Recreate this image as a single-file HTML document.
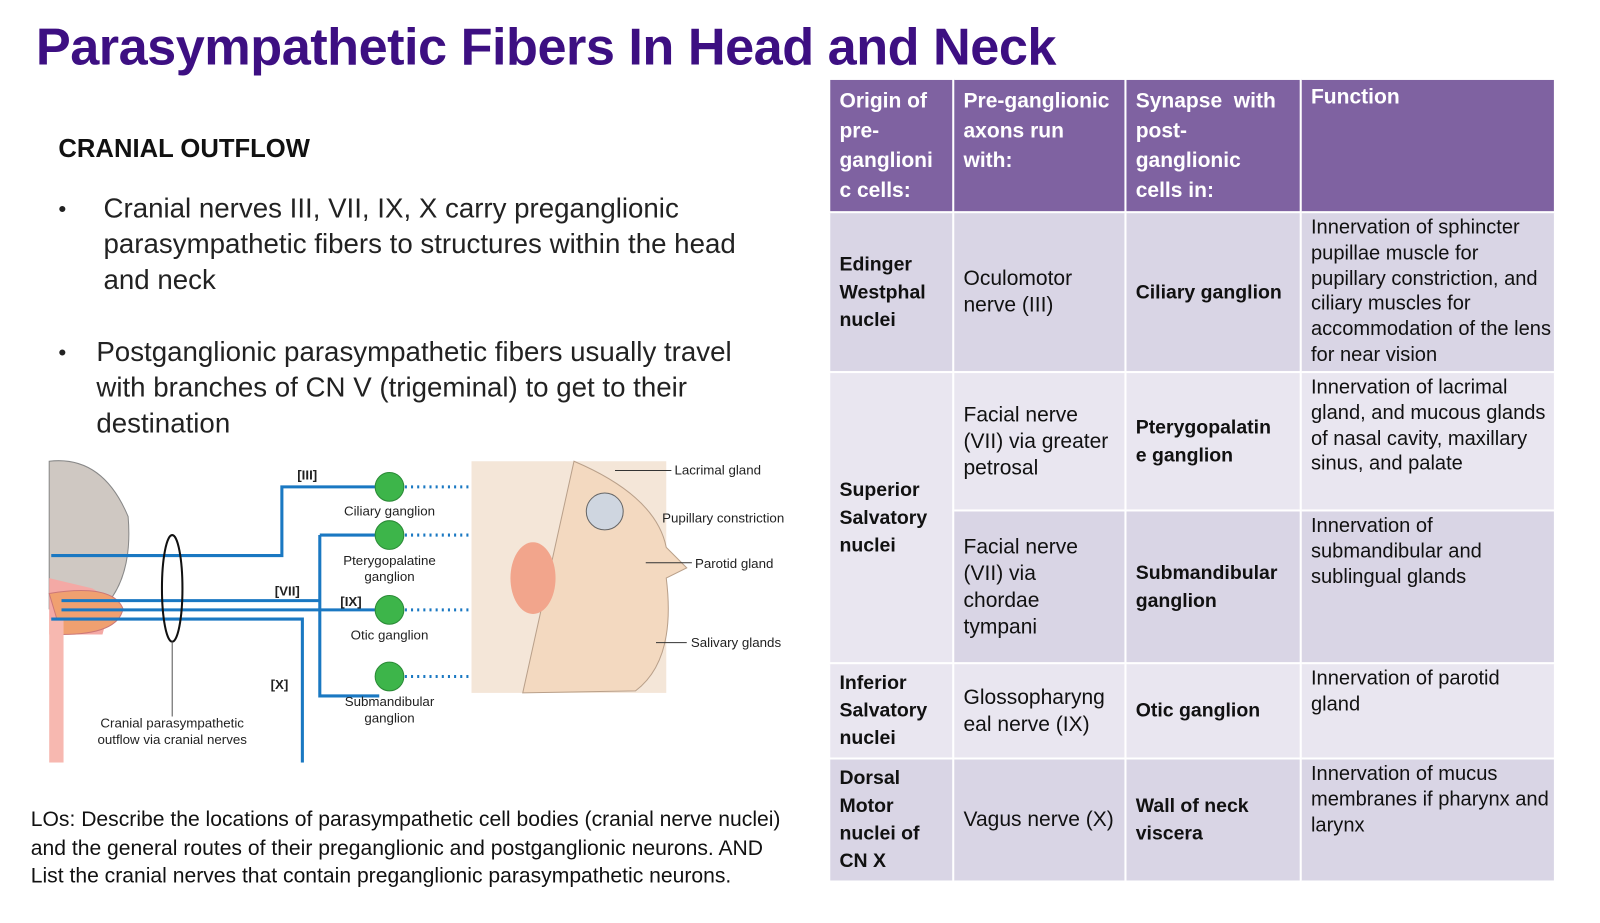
<!DOCTYPE html>
<html><head><meta charset="utf-8"><style>
body{margin:0;width:1600px;height:900px;background:#fff;position:relative;overflow:hidden;font-family:"Liberation Sans",sans-serif;}
#wrap{position:absolute;left:0;top:0;width:1600px;height:900px;transform:scale(1.025);transform-origin:0 0;}
.a{position:absolute;white-space:nowrap;}
#title{left:35px;top:16px;font-size:51px;font-weight:bold;color:#3d0f82;letter-spacing:-0.5px;}
.body{font-size:27px;color:#222;line-height:35px;}
table{position:absolute;left:808px;top:76px;border-collapse:collapse;font-size:20.5px;line-height:26px;table-layout:fixed;}
td{border:2px solid #fff;padding:4px 9px;vertical-align:middle;color:#111;white-space:nowrap;overflow:visible;}
th{border:2px solid #fff;background:#7f62a1;color:#fff;font-weight:bold;text-align:left;vertical-align:top;padding:6px 9px;font-size:20.5px;line-height:29px;}
tr.r1 td{background:#d9d5e5;} tr.r2 td{background:#e9e6f0;}
td.f{vertical-align:top;font-size:19.6px;line-height:24.8px;padding-top:2px;padding-bottom:2px;}
b{font-weight:bold;font-size:19px;}
</style></head><body>
<div id="wrap">
<div id="title" class="a">Parasympathetic Fibers In Head and Neck</div>
<div class="a" style="left:57px;top:131px;font-size:25px;font-weight:bold;color:#111;">CRANIAL OUTFLOW</div>
<div class="a body" style="left:57px;top:186px;"><span style="position:absolute;left:0;font-size:22px">•</span><div style="margin-left:44px">Cranial nerves III, VII, IX, X carry preganglionic<br>parasympathetic fibers to structures within the head<br>and neck</div></div>
<div class="a body" style="left:57px;top:326px;"><span style="position:absolute;left:0;font-size:22px">•</span><div style="margin-left:37px">Postganglionic parasympathetic fibers usually travel<br>with branches of CN V (trigeminal) to get to their<br>destination</div></div>
<div class="a" style="left:30px;top:786px;font-size:20.6px;line-height:27.5px;color:#111;">LOs: Describe the locations of parasympathetic cell bodies (cranial nerve nuclei)<br>and the general routes of their preganglionic and postganglionic neurons. AND<br>List the cranial nerves that contain preganglionic parasympathetic neurons.</div>

<svg class="a" style="left:40px;top:444px" width="760" height="300" font-family="Liberation Sans" font-size="13">
<path d="M8 6 Q60 0 85 60 Q90 120 60 150 L8 150 Z" fill="#cfc8c2" stroke="#888"/>
<path d="M8 120 L50 130 Q70 140 60 175 L8 175 Z" fill="#f4a9a5"/>
<path d="M8 135 Q70 125 80 150 Q75 175 20 175 Z" fill="#f0a070" stroke="#c77"/>
<rect x="8" y="160" width="14" height="140" fill="#f7b8b0"/>
<g stroke="#1a78c2" stroke-width="3" fill="none">
<path d="M10 98 H235 V31 H330"/>
<path d="M20 142 H272 M272 78 V235 H330 M272 78 H330"/>
<path d="M20 151 H330"/>
<path d="M10 160 H255 V300"/>
</g>
<g stroke="#1a78c2" stroke-width="3" stroke-dasharray="2,4" fill="none">
<path d="M355 31 H560 L600 60"/><path d="M355 78 H480 L540 40"/><path d="M355 151 H460 L480 130"/><path d="M355 216 H500 L520 180"/>
</g>
<ellipse cx="128" cy="130" rx="10" ry="52" fill="none" stroke="#111" stroke-width="2"/>
<line x1="128" y1="182" x2="128" y2="255" stroke="#555"/>
<g fill="#3db54a" stroke="#2a8a36"><circle cx="340" cy="31" r="14"/><circle cx="340" cy="78" r="14"/><circle cx="340" cy="151" r="14"/><circle cx="340" cy="216" r="14"/></g>
<rect x="420" y="6" width="190" height="226" fill="#f4e6d8"/>
<path d="M520 6 Q600 40 610 90 L630 110 L610 120 Q620 200 580 230 L470 232 Z" fill="#f3d9c0" stroke="#b9a08a"/>
<circle cx="550" cy="55" r="18" fill="#cfd6e0" stroke="#666"/>
<ellipse cx="480" cy="120" rx="22" ry="35" fill="#f2a58c"/>
<g fill="#222" font-weight="bold"><text x="250" y="24">[III]</text><text x="228" y="137">[VII]</text><text x="292" y="147">[IX]</text><text x="224" y="228">[X]</text></g>
<g fill="#222" text-anchor="middle"><text x="340" y="59">Ciliary ganglion</text><text x="340" y="107">Pterygopalatine</text><text x="340" y="123">ganglion</text><text x="340" y="180">Otic ganglion</text><text x="340" y="245">Submandibular</text><text x="340" y="261">ganglion</text>
<text x="128" y="266">Cranial parasympathetic</text><text x="128" y="282">outflow via cranial nerves</text></g>
<g stroke="#333"><line x1="560" y1="15" x2="615" y2="15"/><line x1="590" y1="105" x2="635" y2="105"/><line x1="600" y1="183" x2="630" y2="183"/></g>
<g fill="#222"><text x="618" y="19">Lacrimal gland</text><text x="606" y="66">Pupillary constriction</text><text x="638" y="110">Parotid gland</text><text x="634" y="187">Salivary glands</text></g>
</svg>

<table style="width:708px">
<colgroup><col style="width:121px"><col style="width:168px"><col style="width:171px"><col style="width:248px"></colgroup>
<tr style="height:124px"><th>Origin of<br>pre-<br>ganglioni<br>c cells:</th><th>Pre-ganglionic<br>axons run<br>with:</th><th>Synapse &nbsp;with<br>post-<br>ganglionic<br>cells in:</th><th style="padding-top:2px">Function</th></tr>
<tr class="r1" style="height:156px"><td><b>Edinger<br>Westphal<br>nuclei</b></td><td>Oculomotor<br>nerve (III)</td><td><b>Ciliary ganglion</b></td><td class="f">Innervation of sphincter<br>pupillae muscle for<br>pupillary constriction, and<br>ciliary muscles for<br>accommodation of the lens<br>for near vision</td></tr>
<tr class="r2" style="height:135px"><td rowspan="2"><b>Superior<br>Salvatory<br>nuclei</b></td><td>Facial nerve<br>(VII) via greater<br>petrosal</td><td><b>Pterygopalatin<br>e ganglion</b></td><td class="f">Innervation of lacrimal<br>gland, and mucous glands<br>of nasal cavity, maxillary<br>sinus, and palate</td></tr>
<tr class="r1" style="height:149px"><td>Facial nerve<br>(VII) via<br>chordae<br>tympani</td><td><b>Submandibular<br>ganglion</b></td><td class="f">Innervation of<br>submandibular and<br>sublingual glands</td></tr>
<tr class="r2" style="height:93px"><td><b>Inferior<br>Salvatory<br>nuclei</b></td><td>Glossopharyng<br>eal nerve (IX)</td><td><b>Otic ganglion</b></td><td class="f">Innervation of parotid<br>gland</td></tr>
<tr class="r1" style="height:120px"><td><b>Dorsal<br>Motor<br>nuclei of<br>CN X</b></td><td>Vagus nerve (X)</td><td><b>Wall of neck<br>viscera</b></td><td class="f">Innervation of mucus<br>membranes if pharynx and<br>larynx</td></tr>
</table>
</div>
</body></html>
